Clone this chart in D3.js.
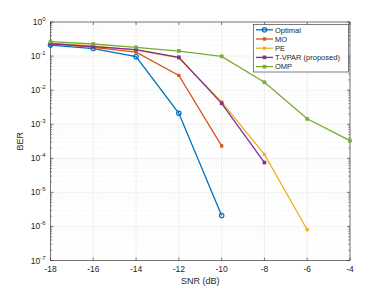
<!DOCTYPE html>
<html><head><meta charset="utf-8">
<script src="https://cdn.jsdelivr.net/npm/d3@7"></script>
<style>body{margin:0;background:#fff}svg{display:block;font-family:"Liberation Sans",Arial,sans-serif}</style>
</head><body><div id="c"></div>
<script>
const snr = [-18,-16,-14,-12,-10,-8,-6,-4];
const seriesNames = ["Optimal","MO","PE","T-VPAR (proposed)","OMP"];
const optimal = [0.21,0.166,0.096,0.0021,2.1e-6];
const mo = [0.235,0.18,0.13,0.027,2.3e-4];
const pe = [0.24,0.2,0.15,0.088,0.0045,1.3e-4,8e-7];
const tvpar = [0.23,0.19,0.155,0.092,0.0041,7.5e-5];
const omp = [0.265,0.226,0.18,0.14,0.098,0.017,0.00144,3.3e-4];
const xTicks = [-18,-16,-14,-12,-10,-8,-6,-4];
const yTickExps = [0,-1,-2,-3,-4,-5,-6,-7];
const colors = ["#0072BD","#D95319","#EDB120","#7E2F8E","#77AC30"];
const markers = ["circle","x","x","square","square"];
const data = [optimal,mo,pe,tvpar,omp];

const W=388,H=294, L=50.5, R=350, T=22, B=260.5;
const svg=d3.select("#c").append("svg").attr("width",W).attr("height",H);
const x=d3.scaleLinear().domain([-18,-4]).range([L,R]);
const y=d3.scaleLog().domain([1e-7,1]).range([B,T]);

// grid
const g=svg.append("g");
for(let e=-7;e<0;e++){ for(let m=2;m<=9;m++){ const v=m*Math.pow(10,e);
  g.append("line").attr("x1",L).attr("x2",R).attr("y1",y(v)).attr("y2",y(v)).attr("stroke","#e4e4e4").attr("stroke-width",0.5).attr("stroke-dasharray","1,1.5");
}}
xTicks.forEach(t=>g.append("line").attr("x1",x(t)).attr("x2",x(t)).attr("y1",T).attr("y2",B).attr("stroke","#e6e6e6").attr("stroke-width",0.6));
yTickExps.forEach(e=>g.append("line").attr("x1",L).attr("x2",R).attr("y1",y(Math.pow(10,e))).attr("y2",y(Math.pow(10,e))).attr("stroke","#e6e6e6").attr("stroke-width",0.6));

// axes
const ax=svg.append("g").attr("fill","none").attr("stroke","#262626").attr("stroke-width",0.6);
ax.append("rect").attr("x",L).attr("y",T).attr("width",R-L).attr("height",B-T);
xTicks.forEach(t=>{ax.append("line").attr("x1",x(t)).attr("x2",x(t)).attr("y1",B).attr("y2",B-3);ax.append("line").attr("x1",x(t)).attr("x2",x(t)).attr("y1",T).attr("y2",T+3);});
for(let e=-7;e<=0;e++){ const v=Math.pow(10,e);
  ax.append("line").attr("x1",L).attr("x2",L+3).attr("y1",y(v)).attr("y2",y(v));
  ax.append("line").attr("x1",R).attr("x2",R-3).attr("y1",y(v)).attr("y2",y(v));
  if(e<0) for(let m=2;m<=9;m++){ const w=m*v;
    ax.append("line").attr("x1",L).attr("x2",L+1.6).attr("y1",y(w)).attr("y2",y(w)).attr("stroke-width",0.5);
    ax.append("line").attr("x1",R).attr("x2",R-1.6).attr("y1",y(w)).attr("y2",y(w)).attr("stroke-width",0.5);
  }
}
const tx=svg.append("g").attr("fill","#262626").attr("font-size",8.5);
xTicks.forEach(t=>tx.append("text").attr("x",x(t)).attr("y",B+11).attr("text-anchor","middle").text(t));
yTickExps.forEach(e=>{const t=tx.append("text").attr("x",L-5).attr("y",y(Math.pow(10,e))+3).attr("text-anchor","end");
  t.append("tspan").text("10");t.append("tspan").attr("font-size",6).attr("dy",-4).text(e===0?"0":"-"+(-e));});
tx.append("text").attr("x",(L+R)/2).attr("y",B+23).attr("text-anchor","middle").attr("font-size",9).text("SNR (dB)");
tx.append("text").attr("transform",`translate(23,${(T+B)/2}) rotate(-90)`).attr("text-anchor","middle").attr("font-size",9).text("BER");

function drawMarker(sel,type,cx,cy,col){
  if(type==="circle") sel.append("circle").attr("cx",cx).attr("cy",cy).attr("r",2.2).attr("fill","none").attr("stroke",col).attr("stroke-width",1.2);
  else if(type==="square") sel.append("rect").attr("x",cx-1.5).attr("y",cy-1.5).attr("width",3).attr("height",3).attr("fill",col).attr("stroke",col).attr("stroke-width",0.6);
  else { sel.append("rect").attr("x",cx-1.3).attr("y",cy-1.3).attr("width",2.6).attr("height",2.6).attr("fill",col).attr("stroke",col).attr("stroke-width",0.6); }
}
const line=d3.line().x((d,i)=>x(snr[i])).y(d=>y(d));
data.forEach((s,k)=>{
  const gs=svg.append("g");
  gs.append("path").attr("d",line(s)).attr("fill","none").attr("stroke",colors[k]).attr("stroke-width",1.3);
  s.forEach((v,i)=>drawMarker(gs,markers[k],x(snr[i]),y(v),colors[k]));
});

// legend
const lg=svg.append("g");
lg.append("rect").attr("x",253.5).attr("y",24.5).attr("width",95).attr("height",47.5).attr("fill","#fff").attr("stroke","#262626").attr("stroke-width",0.6);
seriesNames.forEach((n,k)=>{const yy=29.8+k*9.2;
  lg.append("line").attr("x1",256).attr("x2",273).attr("y1",yy).attr("y2",yy).attr("stroke",colors[k]).attr("stroke-width",1.3);
  drawMarker(lg,markers[k],264.5,yy,colors[k]);
  lg.append("text").attr("x",275).attr("y",yy+2.8).attr("font-size",7.5).attr("fill","#262626").text(n);
});
</script></body></html>
